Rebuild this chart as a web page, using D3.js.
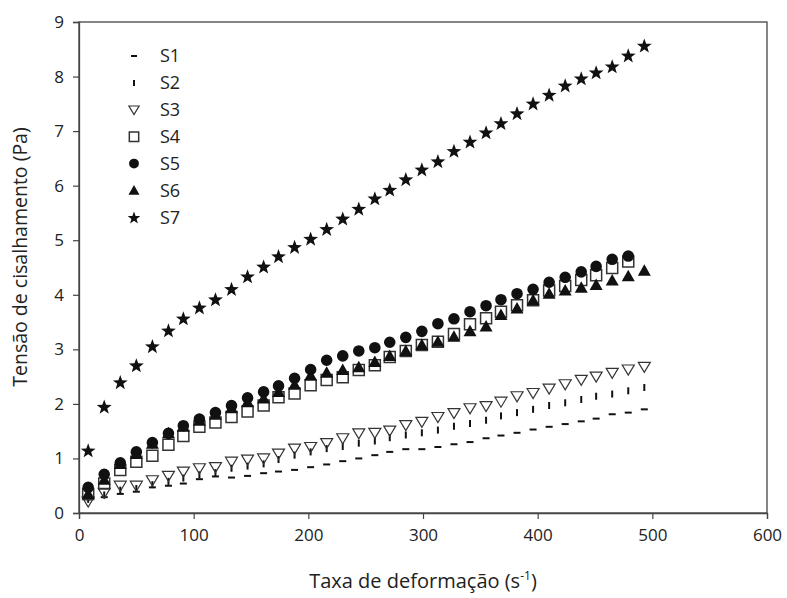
<!DOCTYPE html>
<html><head><meta charset="utf-8">
<script src="https://cdn.jsdelivr.net/npm/d3@7"></script>
<style>body{margin:0;background:#fff}svg{display:block}text{font-family:"Open Sans",sans-serif;fill:#222}</style>
</head><body><svg id="c" width="787" height="598"></svg>
<script>
const shearRate = [8,22,36,50,64,78,91,105,119,133,147,161,174,188,202,216,230,244,258,271,285,299,313,327,341,355,368,382,396,410,424,438,451,465,479,493];
const S1 = [0.25,0.29,0.35,0.39,0.47,0.50,0.54,0.62,0.67,0.65,0.68,0.73,0.76,0.79,0.84,0.89,0.95,1.00,1.06,1.12,1.17,1.17,1.21,1.26,1.30,1.37,1.42,1.47,1.53,1.58,1.63,1.68,1.73,1.81,1.84,1.90];
const S2 = [0.25,0.33,0.42,0.45,0.52,0.58,0.64,0.70,0.74,0.82,0.86,0.90,0.98,1.06,1.12,1.18,1.22,1.28,1.32,1.38,1.43,1.47,1.52,1.59,1.64,1.70,1.78,1.84,1.90,1.97,2.02,2.08,2.14,2.18,2.24,2.30];
const S3 = [0.21,0.37,0.50,0.50,0.60,0.68,0.76,0.82,0.84,0.94,0.98,1.00,1.09,1.18,1.21,1.28,1.37,1.46,1.47,1.51,1.61,1.67,1.76,1.83,1.92,1.96,2.04,2.14,2.20,2.28,2.36,2.44,2.50,2.57,2.63,2.68];
const S4 = [0.35,0.54,0.79,0.94,1.05,1.25,1.41,1.58,1.66,1.76,1.86,1.97,2.12,2.19,2.34,2.44,2.49,2.62,2.71,2.86,2.97,3.08,3.14,3.28,3.46,3.57,3.69,3.81,3.90,4.08,4.16,4.27,4.36,4.49,4.61];
const S5 = [0.47,0.71,0.92,1.12,1.29,1.46,1.60,1.72,1.84,1.97,2.11,2.22,2.33,2.47,2.63,2.80,2.88,2.97,3.03,3.13,3.22,3.33,3.47,3.56,3.69,3.80,3.91,4.02,4.10,4.23,4.32,4.42,4.52,4.65,4.71];
const S6 = [0.35,0.61,0.90,1.08,1.27,1.46,1.58,1.69,1.80,1.92,2.03,2.10,2.22,2.35,2.52,2.57,2.62,2.67,2.77,2.88,2.97,3.08,3.14,3.23,3.33,3.42,3.63,3.75,3.90,4.02,4.08,4.13,4.18,4.26,4.34,4.44];
const S7 = [1.15,1.95,2.40,2.71,3.06,3.35,3.57,3.77,3.92,4.11,4.34,4.52,4.71,4.88,5.03,5.21,5.40,5.58,5.77,5.93,6.12,6.30,6.45,6.64,6.81,6.98,7.15,7.33,7.51,7.67,7.84,7.97,8.08,8.19,8.39,8.57];
const seriesNames = ["S1","S2","S3","S4","S5","S6","S7"];
const seriesValues = [S1,S2,S3,S4,S5,S6,S7];
const xTicks = [0,100,200,300,400,500,600];
const yTicks = [0,1,2,3,4,5,6,7,8,9];
const xLabel = "Taxa de deformação (s";
const yLabel = "Tensão de cisalhamento (Pa)";

const svg = d3.select("#c");
const L=79,R=767,T=22,B=513;
const x = d3.scaleLinear().domain([0,600]).range([L,R]);
const y = d3.scaleLinear().domain([0,9]).range([B,T]);

function shape(kind, s){
  s = s||1;
  switch(kind){
    case "S1": return `M${-3.5*s},-1H${3.5*s}V1H${-3.5*s}Z`;
    case "S2": return `M-1,${-3.5*s}H1V${3.5*s}H-1Z`;
    case "S3": return `M${-6*s},${-4.5*s}L${6*s},${-4.5*s}L0,${5.5*s}Z`;
    case "S4": return `M${-5.5*s},${-5.5*s}H${5.5*s}V${5.5*s}H${-5.5*s}Z`;
    case "S5": return d3.arc()({innerRadius:0,outerRadius:5.8*s,startAngle:0,endAngle:2*Math.PI});
    case "S6": return `M0,${-6.5*s}L${6.5*s},${5*s}L${-6.5*s},${5*s}Z`;
    case "S7": {
      const pts=[];
      for(let i=0;i<10;i++){const r=(i%2?3.2:7.8)*s;const a=-Math.PI/2+i*Math.PI/5;pts.push([r*Math.cos(a),r*Math.sin(a)+0.8*s]);}
      return "M"+pts.map(p=>p.join(",")).join("L")+"Z";
    }
  }
}
function style(sel, kind){
  if(kind==="S3"){sel.attr("fill","none").attr("stroke","#333").attr("stroke-width",1.2);}
  else if(kind==="S4"){sel.attr("fill","none").attr("stroke","#333").attr("stroke-width",1.5);}
  else sel.attr("fill","#111");
}

svg.append("rect").attr("x",L).attr("y",T).attr("width",R-L).attr("height",B-T)
  .attr("fill","none").attr("stroke","#444").attr("stroke-width",1.3);

const xa = svg.append("g").attr("transform",`translate(0,${B})`)
  .call(d3.axisBottom(x).tickValues(xTicks).tickSize(6).tickPadding(10));
const ya = svg.append("g").attr("transform",`translate(${L},0)`)
  .call(d3.axisLeft(y).tickValues(yTicks).tickSize(6).tickPadding(9));
[xa,ya].forEach(a=>{a.select(".domain").attr("stroke","#444").attr("stroke-width",1.3);
  a.selectAll(".tick line").attr("stroke","#444").attr("stroke-width",1.2);
  a.selectAll(".tick text").style("font-family","'Open Sans',sans-serif").style("font-size","17px").attr("fill","#222");});

seriesNames.forEach((name,i)=>{
  const vals = seriesValues[i];
  svg.append("g").selectAll("path").data(vals).join("path")
    .attr("transform",(d,j)=>`translate(${x(shearRate[j])},${y(d)})`)
    .attr("d",shape(name,1))
    .call(style,name);
});

const lg = svg.append("g");
seriesNames.forEach((name,i)=>{
  const yy = 56 + i*26.9;
  lg.append("path").attr("transform",`translate(134,${yy})`).attr("d",shape(name,0.85)).call(style,name);
  lg.append("text").attr("x",160).attr("y",yy).attr("dy","0.36em").style("font-size","18px").text(name);
});

const xt = svg.append("text").attr("x",423).attr("y",588).attr("text-anchor","middle").style("font-size","20px");
xt.append("tspan").text(xLabel);
xt.append("tspan").attr("dy",-8).style("font-size","12px").text("-1");
xt.append("tspan").attr("dy",8).text(")");
svg.append("text").attr("transform","translate(27,257) rotate(-90)").attr("text-anchor","middle")
  .style("font-size","19.5px").text(yLabel);
</script></body></html>
